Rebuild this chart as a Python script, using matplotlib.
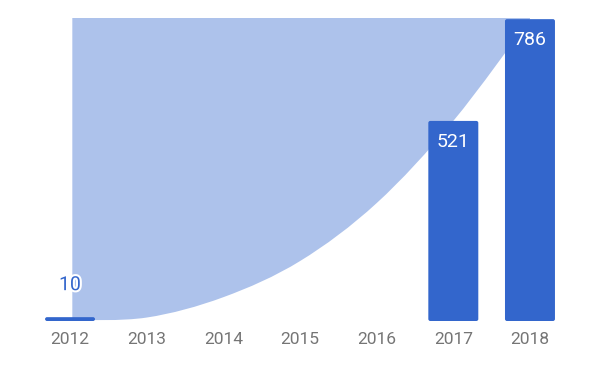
import matplotlib
matplotlib.use("Agg")
import matplotlib.pyplot as plt
import matplotlib.patheffects as pe
from matplotlib.path import Path
from matplotlib.patches import PathPatch, FancyBboxPatch

plt.rcParams['font.family'] = ['Roboto', 'DejaVu Sans']

years = [2012, 2013, 2014, 2015, 2016, 2017, 2018]
tick_labels = ["2012", "2013", "2014", "2015", "2016", "2017", "2018"]
bar_years = [2012, 2017, 2018]
bar_values = [10, 521, 786]
trend_x = [2012.03, 2013, 2014, 2015, 2016, 2017, 2018]
trend_values = [2, 9, 62, 156, 307, 521, 786]

BAR = "#3366cc"
AREA = "#adc2eb"
YTOP = 789

fig = plt.figure(figsize=(6.0, 3.71), dpi=100)
ax = fig.add_axes([31.7 / 600, 50 / 371, (568.3 - 31.7) / 600, (321 - 18) / 371])
ax.set_xlim(2011.5, 2018.5)
ax.set_ylim(0, YTOP)

# smooth area between the trend curve and the top of the plot
pts = list(zip(trend_x, trend_values))
verts = [(trend_x[0], YTOP), pts[0]]
codes = [Path.MOVETO, Path.LINETO]
n = len(pts)
for i in range(n - 1):
    p0 = pts[i - 1] if i > 0 else pts[i]
    p1 = pts[i]
    p2 = pts[i + 1]
    p3 = pts[i + 2] if i + 2 < n else pts[i + 1]
    c1 = (p1[0] + (p2[0] - p0[0]) / 6, p1[1] + (p2[1] - p0[1]) / 6)
    c2 = (p2[0] - (p3[0] - p1[0]) / 6, p2[1] - (p3[1] - p1[1]) / 6)
    verts += [c1, c2, p2]
    codes += [Path.CURVE4] * 3
verts += [(trend_x[-1], YTOP), (trend_x[0], YTOP)]
codes += [Path.LINETO, Path.CLOSEPOLY]
patch = PathPatch(Path(verts, codes), facecolor=AREA, edgecolor="none", zorder=1)
ax.add_patch(patch)
patch.set_clip_path(ax.patch)

bars = ax.bar(bar_years, bar_values, width=0.652, color=BAR, zorder=2)
# replace rectangles with slightly rounded ones
for r in bars:
    x0, y0, w, h = r.get_x(), r.get_y(), r.get_width(), r.get_height()
    r.set_visible(False)
    rs = 0.026
    fb = FancyBboxPatch((x0, y0), w, h, boxstyle=f"round,pad=0,rounding_size={rs}",
                        mutation_aspect=200, facecolor=BAR, edgecolor="none", zorder=2)
    ax.add_patch(fb)

for x, v in zip(bar_years, bar_values):
    if v > 100:
        ax.annotate(str(v), (x, v), xytext=(0, -21), textcoords="offset pixels",
                    ha="center", va="center", color="white", fontsize=14, zorder=3)
    else:
        t = ax.annotate(str(v), (x, v), xytext=(0, 32), textcoords="offset pixels",
                        ha="center", va="center", color=BAR, fontsize=14, zorder=3)
        t.set_path_effects([pe.withStroke(linewidth=3, foreground="white")])

ax.set_xticks(years)
ax.set_xticklabels(tick_labels, color="#757575", fontsize=12.5)
ax.tick_params(axis="x", length=0, pad=8)
ax.set_yticks([])
for s in ax.spines.values():
    s.set_visible(False)

fig.savefig("out.png", dpi=100)
